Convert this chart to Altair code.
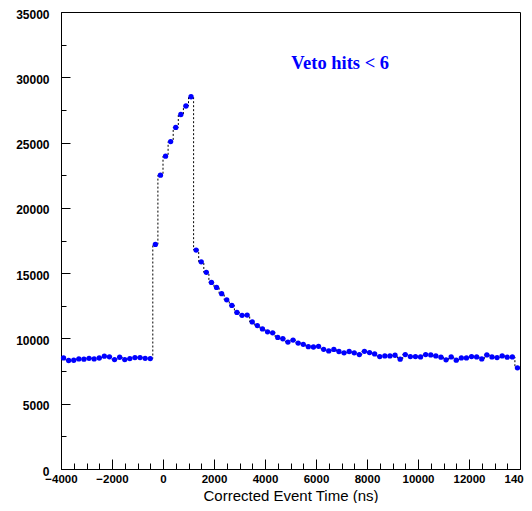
import altair as alt
import numpy as np
import pandas as pd

# Histogram: 90 bins of 200 ns from -4000 to 14000 ns
bin_width = 200
x_start = -4000

counts_pre = [8510, 8310, 8330, 8430, 8410, 8480, 8430, 8500, 8640, 8590,
              8380, 8560, 8380, 8460, 8530, 8530, 8480, 8460]
counts_rise = [17200, 22500, 23960, 25080, 26160, 27150, 27800, 28510]
counts_decay = [16770, 15870, 15060, 14290, 13910, 13430, 12955, 12525, 11995, 11770,
                11790, 11260, 10985, 10730, 10505, 10430, 10076, 9975, 9722, 9874,
                9647, 9546, 9369, 9344, 9394, 9167, 9040, 9160, 9000, 8900,
                9000, 8900]
counts_tail = [8763, 9015, 8914, 8813, 8611, 8662, 8662, 8712, 8409, 8763,
               8611, 8611, 8586, 8763, 8737, 8662, 8561, 8359, 8586, 8333,
               8510, 8510, 8611, 8586, 8434, 8737, 8586, 8536, 8662, 8561,
               8586, 7752]

counts = counts_pre + counts_rise + counts_decay + counts_tail
centers = x_start + bin_width / 2 + bin_width * np.arange(len(counts))
df = pd.DataFrame({"t": centers, "n": counts})

x_major = list(range(-4000, 14001, 2000))
x_minor = list(range(-4000, 14001, 500))
y_major = list(range(0, 35001, 5000))
y_minor = list(range(0, 35001, 2500))

label_text = ["Veto hits < 6"]
label_x = [6950]
label_y = [30650]
ann = pd.DataFrame({"t": label_x, "n": label_y, "txt": label_text})

FONT = "Liberation Sans"
x_scale = alt.Scale(domain=[-4000, 14000], nice=False, zero=False)
y_scale = alt.Scale(domain=[0, 35000], nice=False, zero=True)

# Layer 1: dashed histogram outline + tick labels
line = alt.Chart(df).mark_line(
    interpolate="step", color="black", strokeDash=[2, 2], strokeWidth=1
).encode(
    x=alt.X("t:Q", scale=x_scale, axis=alt.Axis(
        orient="bottom", title="Corrected Event Time (ns)", values=x_major,
        format="d", ticks=False, tickSize=0, domain=False, grid=False,
        labelFont=FONT, labelFontWeight="bold", labelFontSize=11.5,
        labelColor="black", labelPadding=4, labelFlush=False, labelOverlap=False,
        titleFont=FONT, titleFontSize=15, titleFontWeight="normal",
        titleColor="black", titleBaseline="alphabetic", titleY=31)),
    y=alt.Y("n:Q", scale=y_scale, axis=alt.Axis(
        orient="left", title=None, values=y_major, format="d",
        ticks=False, tickSize=0, domain=False, grid=False,
        labelFont=FONT, labelFontWeight="bold", labelFontSize=12,
        labelColor="black", labelPadding=12, labelOffset=2,
        labelOverlap=False)),
)

# Layer 2: markers + minor ticks (inward)
points = alt.Chart(df).mark_circle(color="#0000ff", size=28, opacity=1).encode(
    x=alt.X("t:Q", scale=x_scale, axis=alt.Axis(
        orient="bottom", title=None, values=x_minor, labels=False,
        domain=False, grid=False, ticks=True, tickSize=6, offset=-6,
        tickColor="black", tickWidth=1)),
    y=alt.Y("n:Q", scale=y_scale, axis=alt.Axis(
        orient="left", title=None, values=y_minor, labels=False,
        domain=False, grid=False, ticks=True, tickSize=5, offset=-5,
        tickColor="black", tickWidth=1)),
)

# Layer 3: annotation + major ticks (inward)
text = alt.Chart(ann).mark_text(
    font="Liberation Serif", fontWeight="bold", fontSize=18.5,
    color="#0000ff", align="center", baseline="alphabetic"
).encode(
    x=alt.X("t:Q", scale=x_scale, axis=alt.Axis(
        orient="bottom", title=None, values=x_major, labels=False,
        domain=False, grid=False, ticks=True, tickSize=10, offset=-10,
        tickColor="black", tickWidth=1)),
    y=alt.Y("n:Q", scale=y_scale, axis=alt.Axis(
        orient="left", title=None, values=y_major, labels=False,
        domain=False, grid=False, ticks=True, tickSize=9, offset=-9,
        tickColor="black", tickWidth=1)),
    text="txt:N",
)

chart = alt.layer(line, points, text).resolve_axis(
    x="independent", y="independent"
).properties(
    width=459, height=457,
    padding={"left": 53, "top": 4, "right": 4, "bottom": 34},
    autosize=alt.AutoSizeParams(type="none"),
    background="white",
).configure_view(stroke="black", strokeWidth=1)

chart.save("out.html", embed_options={"renderer": "svg", "actions": False})
